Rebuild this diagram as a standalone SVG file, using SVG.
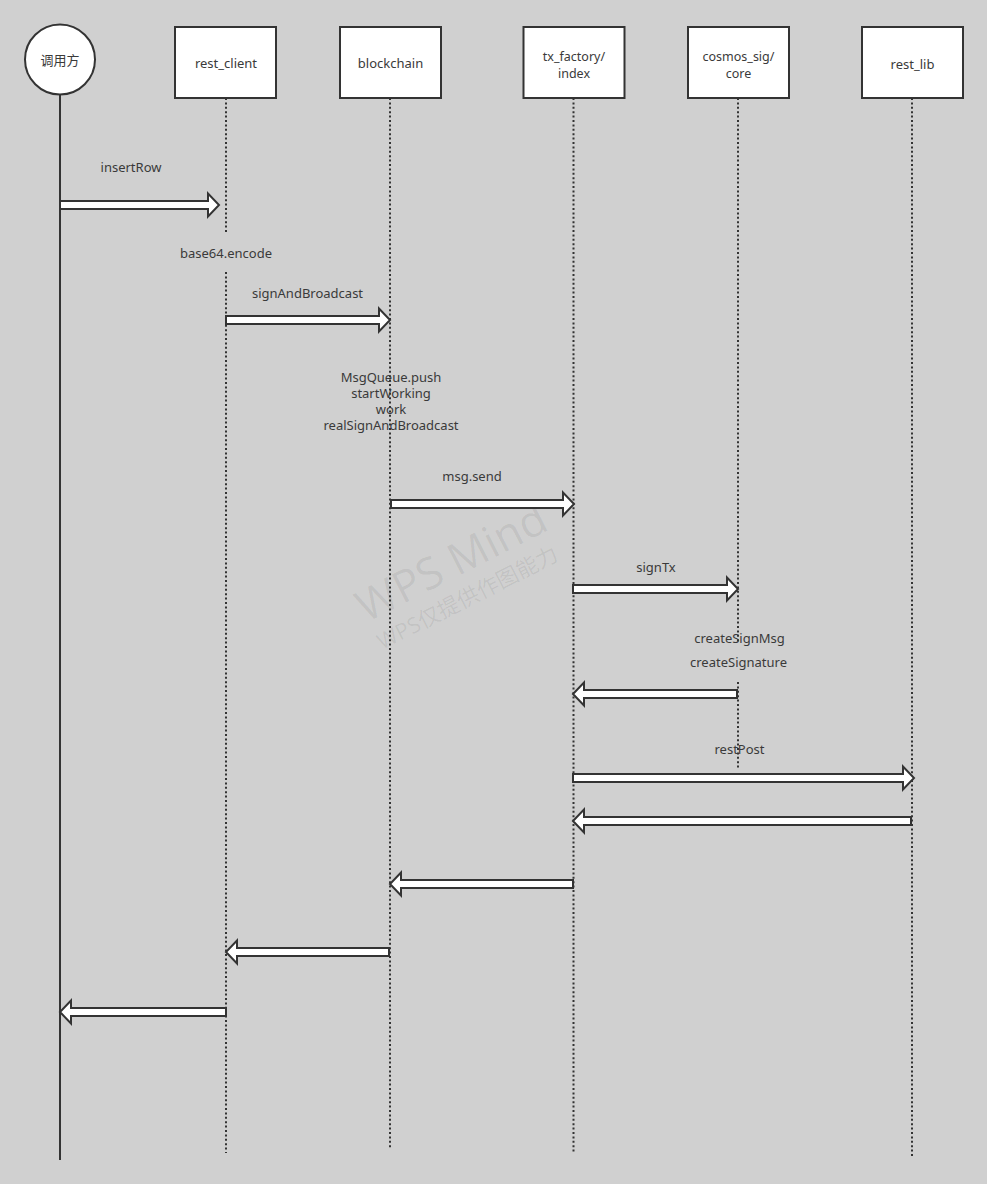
<svg xmlns="http://www.w3.org/2000/svg" width="987" height="1184" viewBox="0 0 987 1184">
<style>
  .bg{fill:#d0d0d0}
  .box{fill:#fff;stroke:#333;stroke-width:2}
  .life{fill:none;stroke:#333;stroke-width:2;stroke-dasharray:2 2.4}
  .solid{fill:none;stroke:#333;stroke-width:2}
  .arr{fill:#fff;stroke:#333;stroke-width:2;stroke-linejoin:miter}
  text{font-family:"Noto Sans","Open Sans","Noto Sans CJK SC",sans-serif;font-size:13px;fill:#3a3a3a;text-anchor:middle}
  text.two{font-size:12.5px}
  text.wm1{font-size:44px;fill:#000;fill-opacity:0.07;text-anchor:start;font-family:"Open Sans","Noto Sans",sans-serif}
  text.wm2{font-size:22px;fill:#000;fill-opacity:0.07;text-anchor:start;font-family:"Open Sans","Noto Sans","Noto Sans CJK SC",sans-serif}
</style>
<rect class="bg" x="0" y="0" width="987" height="1184"/>

<g id="watermark">
  <text class="wm1" x="366" y="623" transform="rotate(-27 366 623)">WPS Mind</text>
  <text class="wm2" x="382" y="650" transform="rotate(-27 382 650)">WPS仅提供作图能力</text>
</g>

<g id="lifelines">
  <line class="solid" x1="60" y1="95" x2="60" y2="1160"/>
  <line class="life" x1="226" y1="98" x2="226" y2="232"/>
  <line class="life" x1="226" y1="272" x2="226" y2="1153"/>
  <line class="life" x1="390" y1="98" x2="390" y2="1148"/>
  <line class="life" x1="573.5" y1="98" x2="573.5" y2="1153"/>
  <line class="life" x1="738" y1="98" x2="738" y2="642"/>
  <line class="life" x1="738" y1="682" x2="738" y2="768"/>
  <line class="life" x1="912" y1="98" x2="912" y2="1156"/>
</g>

<g id="node-caller">
  <circle class="box" cx="60" cy="59.5" r="35"/>
  <text x="60" y="65">调用方</text>
</g>
<g id="node-rest_client">
  <rect class="box" x="175" y="27" width="101" height="71"/>
  <text x="226" y="68">rest_client</text>
</g>
<g id="node-blockchain">
  <rect class="box" x="340" y="27" width="101" height="71"/>
  <text x="390.5" y="68">blockchain</text>
</g>
<g id="node-tx_factory">
  <rect class="box" x="523.5" y="27" width="101" height="71"/>
  <text class="two" x="574" y="60.5">tx_factory/<tspan x="574" dy="17.2">index</tspan></text>
</g>
<g id="node-cosmos_sig">
  <rect class="box" x="688" y="27" width="101" height="71"/>
  <text class="two" x="738.5" y="60.5">cosmos_sig/<tspan x="738.5" dy="17.2">core</tspan></text>
</g>
<g id="node-rest_lib">
  <rect class="box" x="862" y="27" width="101" height="71"/>
  <text x="912.5" y="69">rest_lib</text>
</g>

<g id="connectors">
  <path class="arr" d="M60,201 L208,201 L208,193.5 L219,205 L208,216.5 L208,209 L60,209 Z"/>
  <path class="arr" d="M226,316 L379,316 L379,308.5 L390,320 L379,331.5 L379,324 L226,324 Z"/>
  <path class="arr" d="M391,500 L563,500 L563,492.5 L574,504 L563,515.5 L563,508 L391,508 Z"/>
  <path class="arr" d="M573,585 L727,585 L727,577.5 L738,589 L727,600.5 L727,593 L573,593 Z"/>
  <path class="arr" d="M737,690 L584,690 L584,682.5 L573,694 L584,705.5 L584,698 L737,698 Z"/>
  <path class="arr" d="M573,774 L903,774 L903,766.5 L914,778 L903,789.5 L903,782 L573,782 Z"/>
  <path class="arr" d="M911,817 L584,817 L584,809.5 L573,821 L584,832.5 L584,825 L911,825 Z"/>
  <path class="arr" d="M573,880 L401,880 L401,872.5 L390,884 L401,895.5 L401,888 L573,888 Z"/>
  <path class="arr" d="M389,948 L237,948 L237,940.5 L226,952 L237,963.5 L237,956 L389,956 Z"/>
  <path class="arr" d="M226,1008 L71,1008 L71,1000.5 L60,1012 L71,1023.5 L71,1016 L226,1016 Z"/>
</g>

<g id="labels">
  <text x="131" y="172">insertRow</text>
  <text x="226" y="258">base64.encode</text>
  <text x="307.5" y="298">signAndBroadcast</text>
  <text x="391" y="382">MsgQueue.push<tspan x="391" dy="16">startWorking</tspan><tspan x="391" dy="16">work</tspan><tspan x="391" dy="16">realSignAndBroadcast</tspan></text>
  <text x="472" y="481">msg.send</text>
  <text x="656" y="572">signTx</text>
  <text x="739.5" y="643">createSignMsg</text>
  <text x="738.5" y="667">createSignature</text>
  <text x="739.5" y="754">restPost</text>
</g>
</svg>
